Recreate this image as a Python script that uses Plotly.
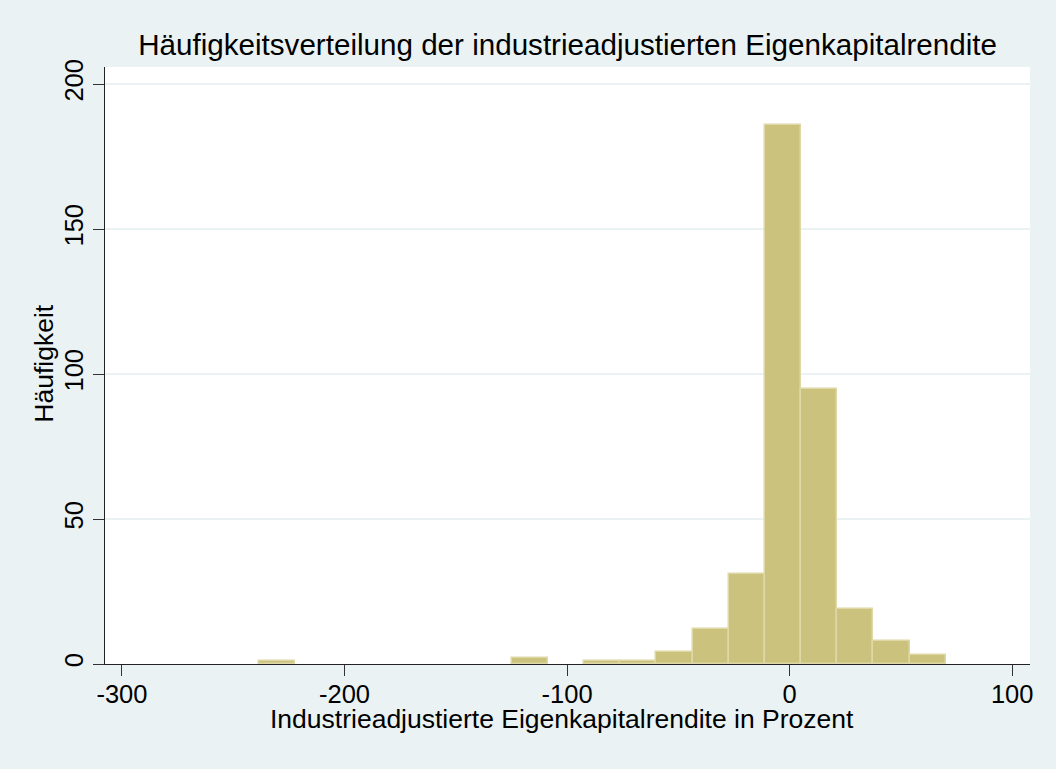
import plotly.graph_objects as go

# Histogram bins (lower edges) and counts
bin_lower = [-238.6, -222.35, -206.1, -189.85, -173.6, -157.35, -141.1, -124.85,
             -108.6, -92.35, -76.1, -59.85, -43.6, -27.35, -11.1, 5.15, 21.4,
             37.65, 53.9]
bin_width = 16.25
counts = [1, 0, 0, 0, 0, 0, 0, 2, 0, 1, 1, 4, 12, 31, 186, 95, 19, 8, 3]

x_ticks = [-300, -200, -100, 0, 100]
y_ticks = [0, 50, 100, 150, 200]

title = "Häufigkeitsverteilung der industrieadjustierten Eigenkapitalrendite"
x_title = "Industrieadjustierte Eigenkapitalrendite in Prozent"
y_title = "Häufigkeit"

centers = [b + bin_width / 2 for b in bin_lower]
line_widths = [1.5 if c > 0 else 0 for c in counts]

font_family = "Liberation Sans, Arial, sans-serif"
bg = "#EAF2F3"

fig = go.Figure(go.Bar(
    x=centers, y=counts, width=[bin_width] * len(counts),
    marker=dict(color="#CBC37D", line=dict(color="#DDD8A6", width=line_widths)),
    hoverinfo="x+y",
))

fig.update_layout(
    width=1056, height=769,
    paper_bgcolor=bg, plot_bgcolor="white",
    margin=dict(l=105, r=26, t=67, b=105),
    showlegend=False,
    font=dict(family=font_family, size=25, color="black"),
    title=dict(text=title, x=0.5375, xanchor="center", y=0.942, yanchor="middle",
               font=dict(size=29.6, family=font_family, color="black")),
    bargap=0,
    annotations=[
        dict(text=x_title, xref="paper", yref="paper", x=0.494, y=-0.092,
             xanchor="center", yanchor="middle", showarrow=False,
             font=dict(size=26.5, family=font_family, color="black")),
        dict(text=y_title, xref="paper", yref="paper", x=-0.066, y=0.503,
             xanchor="center", yanchor="middle", showarrow=False, textangle=-90,
             font=dict(size=26.5, family=font_family, color="black")),
    ],
)

fig.update_xaxes(
    range=[-307.6, 108], tickvals=x_ticks, ticktext=[str(v) for v in x_ticks],
    showgrid=False, zeroline=False,
    showline=True, linecolor="#222222", linewidth=1.2,
    ticks="outside", ticklen=11, tickwidth=1.2, tickcolor="#333333",
    tickfont=dict(size=25.5), ticklabelstandoff=-4,
)
fig.update_yaxes(
    range=[0, 205.9], tickvals=y_ticks, ticktext=[str(v) for v in y_ticks],
    showgrid=True, gridcolor=bg, gridwidth=1.5, zeroline=False,
    showline=True, linecolor="#222222", linewidth=1.2,
    ticks="outside", ticklen=11, tickwidth=1.2, tickcolor="#333333",
    tickangle=-90, tickfont=dict(size=25.5), ticklabelstandoff=0,
)

fig.write_html("out.html", config={"displayModeBar": False},
               post_script="document.body.style.margin='0';")
